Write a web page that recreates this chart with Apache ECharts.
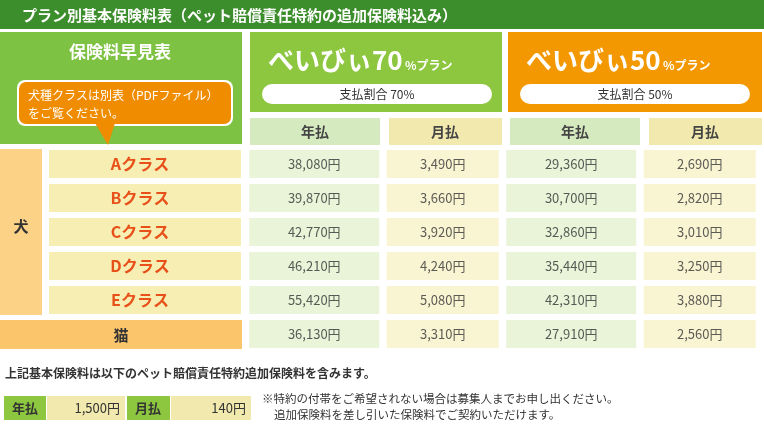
<!DOCTYPE html>
<html><head><meta charset="utf-8">
<script src="https://cdn.jsdelivr.net/npm/echarts@6/dist/echarts.min.js"></script>
<style>html,body{margin:0;padding:0;background:#fff}#c{width:764px;height:434px}</style>
</head><body><div id="c"></div>
<script>
const rows = ['Aクラス','Bクラス','Cクラス','Dクラス','Eクラス','猫'];
const cols = ['70年払','70月払','50年払','50月払'];
const plan70Year = ['38,080円','39,870円','42,770円','46,210円','55,420円','36,130円'];
const plan70Month = ['3,490円','3,660円','3,920円','4,240円','5,080円','3,310円'];
const plan50Year = ['29,360円','30,700円','32,860円','35,440円','42,310円','27,910円'];
const plan50Month = ['2,690円','2,820円','3,010円','3,250円','3,880円','2,560円'];
const dogClasses = rows.slice(0,5);
const colData = [plan70Year, plan70Month, plan50Year, plan50Month];
const colColors = ['#e3f1cf','#f8f2c8','#e3f1cf','#f8f2c8'];
const colWidths = [130,112,130,112];
const F = '"Noto Sans CJK JP", sans-serif';

const cellData = [];
colData.forEach((arr, ci) => arr.forEach((v, ri) => cellData.push({value:[cols[ci], rows[ri]], label:v, symbolSize:[colWidths[ci],28], itemStyle:{color:colColors[ci]}})));
const classData = dogClasses.map(c => ({value:['c', c], label:c}));

const chart = echarts.init(document.getElementById('c'));
function rect(x,y,w,h,fill,r){return {type:'rect',shape:{x,y,width:w,height:h,r:r||0},style:{fill}};}
function txt(x,y,t,size,fill,weight,align){return {type:'text',x,y,style:{text:t,font:(weight||'bold')+' '+size+'px '+F,fill,textAlign:align||'left',textVerticalAlign:'middle'}};}
chart.setOption({
  animation:false,
  grid:[{left:250,top:147,width:520,height:204},{left:48,top:147,width:194,height:170}],
  xAxis:[{type:'category',data:cols,gridIndex:0,show:false},{type:'category',data:['c'],gridIndex:1,show:false}],
  yAxis:[{type:'category',data:rows,inverse:true,gridIndex:0,show:false},{type:'category',data:dogClasses,inverse:true,gridIndex:1,show:false}],
  series:[
    {type:'scatter',xAxisIndex:0,yAxisIndex:0,data:cellData,symbol:'rect',silent:true,
     label:{show:true,position:'inside',formatter:p=>p.data.label,color:'#333',fontSize:13,fontFamily:F}},
    {type:'scatter',xAxisIndex:1,yAxisIndex:1,data:classData,symbol:'rect',symbolSize:[192,28],silent:true,
     itemStyle:{color:'#f6eeb2',opacity:1},
     label:{show:true,position:'inside',offset:[-5,0],formatter:p=>p.data.label,color:'#e8501a',fontSize:16,fontWeight:'bold',fontFamily:F}}
  ],
  graphic:[
    rect(0,0,764,29,'#3c8d2b'),
    txt(22,15,'プラン別基本保険料表（ペット賠償責任特約の追加保険料込み）',15,'#fff'),
    rect(0,32,242,112,'#7dc242'),
    txt(120,52,'保険料早見表',17,'#fff','bold','center'),
    rect(17,80,216,46,'#fff',8),
    rect(19,82,212,42,'#f08c00',7),
    {type:'polygon',shape:{points:[[95,123],[115,123],[108,145]]},style:{fill:'#f08c00'}},
    txt(28,95,'犬種クラスは別表（PDFファイル）',12,'#fff','normal'),
    txt(28,113,'をご覧ください。',12,'#fff','normal'),
    rect(250,32,252,80,'#8dc63f'),
    txt(268,60,'べいびぃ70',26,'#fff'),
    txt(405,65,'%プラン',12,'#fff'),
    rect(262,84,230,20,'#fff',10),
    txt(377,94,'支払割合 70%',12,'#333','normal','center'),
    rect(508,32,254,80,'#f39800'),
    txt(526,60,'べいびぃ50',26,'#fff'),
    txt(663,65,'%プラン',12,'#fff'),
    rect(520,84,230,20,'#fff',10),
    txt(635,94,'支払割合 50%',12,'#333','normal','center'),
    rect(250,118,130,27,'#d6eabf'), txt(315,132,'年払',14,'#444','bold','center'),
    rect(389,118,113,27,'#f1e9ad'), txt(445,132,'月払',14,'#444','bold','center'),
    rect(510,118,130,27,'#d6eabf'), txt(575,132,'年払',14,'#444','bold','center'),
    rect(649,118,113,27,'#f1e9ad'), txt(705,132,'月払',14,'#444','bold','center'),
    rect(0,149,42,166,'#fbd286'), txt(21,226,'犬',15,'#333','bold','center'),
    rect(0,320,242,29,'#fbc66b'), txt(121,335,rows[5],15,'#333','bold','center'),
    txt(5,373,'上記基本保険料は以下のペット賠償責任特約追加保険料を含みます。',12,'#333','bold'),
    rect(4,396,42,24,'#8dc63f'), txt(25,408,'年払',13,'#333','bold','center'),
    rect(47,396,78,24,'#f1e9ad'), txt(120,408,'1,500円',13,'#333','normal','right'),
    rect(127,396,43,24,'#8dc63f'), txt(148,408,'月払',13,'#333','bold','center'),
    rect(171,396,80,24,'#f1e9ad'), txt(246,408,'140円',13,'#333','normal','right'),
    txt(262,399,'※特約の付帯をご希望されない場合は募集人までお申し出ください。',11.5,'#333','normal'),
    txt(274,415,'追加保険料を差し引いた保険料でご契約いただけます。',11.5,'#333','normal')
  ]
});
</script></body></html>
